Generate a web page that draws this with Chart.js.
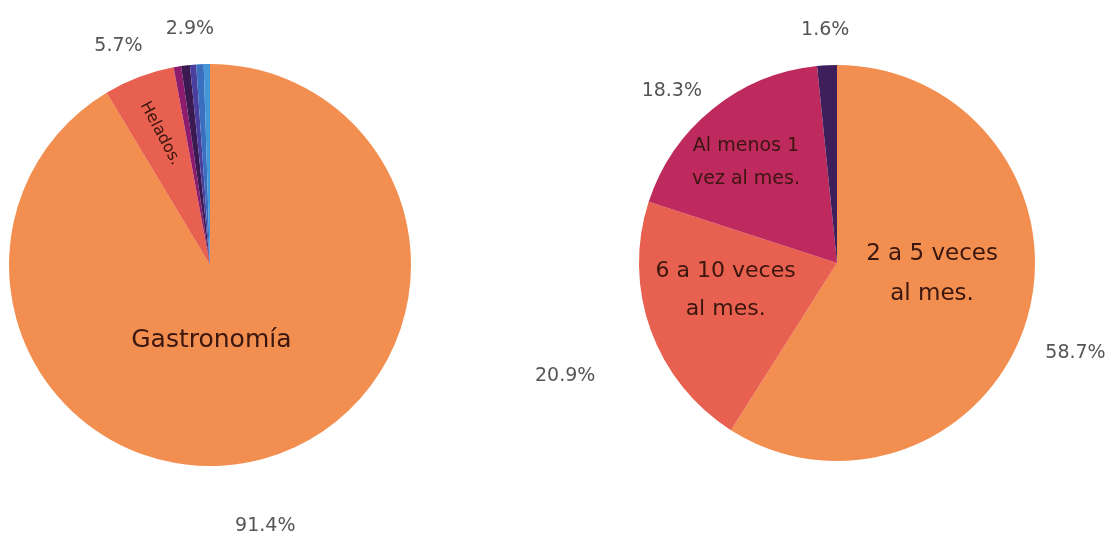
<!DOCTYPE html>
<html>
<head>
<meta charset="utf-8">
<script src="https://cdn.jsdelivr.net/npm/chart.js@4.4.1/dist/chart.umd.min.js"></script>
<style>
    html, body { margin: 0; padding: 0; background: #fff; }
    #wrap { position: relative; width: 1115px; height: 543px; }
    .box { position: absolute; top: 0; height: 543px; }
    #boxLeft { left: 0; width: 430px; }
    #boxRight { left: 500px; width: 615px; }
</style>
</head>
<body>
<div id="wrap">
    <div class="box" id="boxLeft"><canvas id="rubroChart"></canvas></div>
    <div class="box" id="boxRight"><canvas id="frecuenciaChart"></canvas></div>
</div>
<script>
// rubros (left pie)
const rubroLabels = ['Gastronomía', 'Helados.', 'Otro 1', 'Otro 2', 'Otro 3', 'Otro 4', 'Otro 5'];
const rubroValues = [91.4, 5.7, 0.6, 0.7, 0.5, 0.6, 0.5];
const rubroPercentLabels = ['91.4%', '5.7%', null, null, '2.9%', null, null];
const rubroColors = ['#F28E4F', '#E8604F', '#8E1C6E', '#3B1A52', '#4B3F9E', '#3A6FC0', '#4496D6'];

// frecuencia (right pie)
const frecLabels = ['2 a 5 veces\nal mes.', '6 a 10 veces\nal mes.', 'Al menos 1\nvez al mes.', 'Otro'];
const frecValues = [58.7, 20.9, 18.3, 1.6];
const frecPercentLabels = ['58.7%', '20.9%', '18.3%', '1.6%'];
const frecColors = ['#F28E4F', '#E8604F', '#BE2A5E', '#3E1F5C'];

const textFont = '"DejaVu Sans", sans-serif';

// draws percentage labels outside and category names inside the slices
const sliceLabelPlugin = {
    id: 'sliceLabels',
    afterDraw(chart, args, opts) {
        const ctx = chart.ctx;
        const arcs = chart.getDatasetMeta(0).data;
        ctx.save();
        arcs.forEach((arc, i) => {
            const mid = (arc.startAngle + arc.endAngle) / 2;
            const text = opts.percents[i];
            if (text) {
                const o = opts.outer[i];
                const d = arc.outerRadius * o.r;
                ctx.font = '19px ' + textFont;
                ctx.fillStyle = '#555';
                ctx.textAlign = 'center';
                ctx.textBaseline = 'middle';
                ctx.fillText(text, arc.x + Math.cos(mid) * d + (o.dx || 0), arc.y + Math.sin(mid) * d + (o.dy || 0));
            }
            const inner = opts.inner[i];
            if (inner) {
                const d = arc.outerRadius * inner.r;
                const x = arc.x + Math.cos(mid) * d + (inner.dx || 0);
                const y = arc.y + Math.sin(mid) * d + (inner.dy || 0);
                ctx.save();
                ctx.translate(x, y);
                if (inner.rotate) ctx.rotate(inner.rotate * Math.PI / 180);
                ctx.font = inner.size + 'px ' + textFont;
                ctx.fillStyle = '#3A160E';
                ctx.textAlign = 'center';
                ctx.textBaseline = 'middle';
                const lines = chart.data.labels[i].split('\n');
                const lh = inner.size * 1.74;
                lines.forEach((line, k) => {
                    ctx.fillText(line, 0, (k - (lines.length - 1) / 2) * lh);
                });
                ctx.restore();
            }
        });
        ctx.restore();
    }
};

function createPie(canvasId, labels, values, colors, padding, labelOpts) {
    return new Chart(document.getElementById(canvasId), {
        type: 'pie',
        data: {
            labels: labels,
            datasets: [{
                data: values,
                backgroundColor: colors,
                borderWidth: 0
            }]
        },
        options: {
            responsive: true,
            maintainAspectRatio: false,
            animation: false,
            layout: { padding: padding },
            plugins: {
                legend: { display: false },
                tooltip: { enabled: false },
                sliceLabels: labelOpts
            }
        },
        plugins: [sliceLabelPlugin]
    });
}

createPie('rubroChart', rubroLabels, rubroValues, rubroColors,
    { left: 9, right: 19, top: 64, bottom: 77 },
    {
        percents: rubroPercentLabels,
        outer: [
            { r: 1.31, dx: -15, dy: 7 },
            { r: 1.19, dx: -7, dy: 5 },
            null, null,
            { r: 1.18 },
            null, null
        ],
        inner: [
            { r: 0.38, dx: -19, dy: 2, size: 25 },
            { r: 0.7, rotate: 62, size: 16 }
        ]
    });

createPie('frecuenciaChart', frecLabels, frecValues, frecColors,
    { left: 139, right: 80, top: 65, bottom: 82 },
    {
        percents: frecPercentLabels,
        outer: [
            { r: 1.27, dx: -3, dy: 20 },
            { r: 1.47, dx: 2, dy: 14 },
            { r: 1.2, dx: -16, dy: 13 },
            { r: 1.18 }
        ],
        inner: [
            { r: 0.5, dy: -17, size: 23 },
            { r: 0.63, dx: 6, dy: -15, size: 22 },
            { r: 0.7, dx: -4, dy: 7, size: 19 }
        ]
    });
</script>
</body>
</html>
